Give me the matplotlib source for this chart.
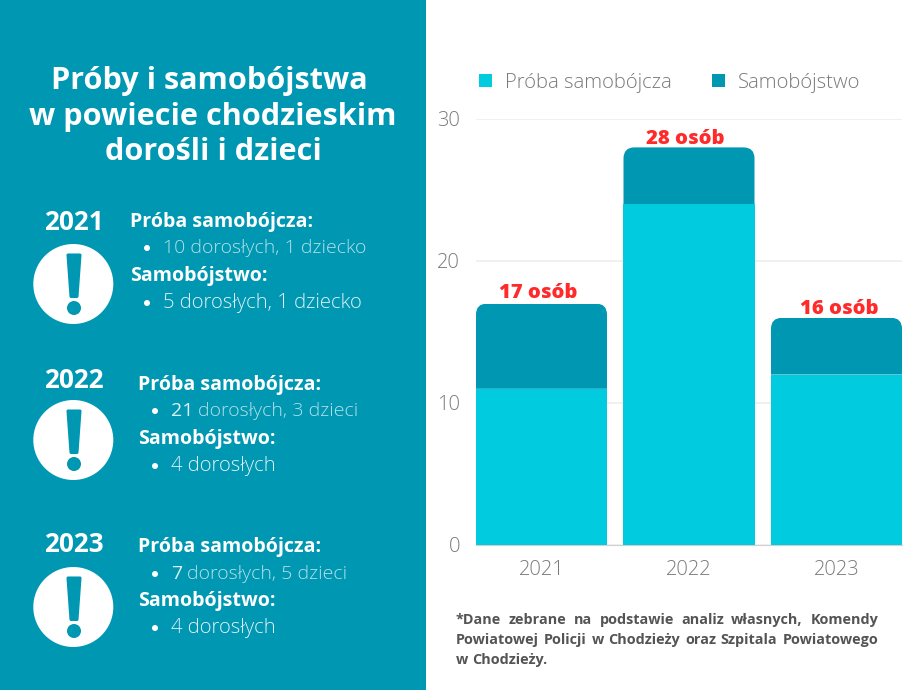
import matplotlib
matplotlib.use("Agg")
import matplotlib.pyplot as plt
from matplotlib.patches import Rectangle, Circle, Polygon, PathPatch
from matplotlib.path import Path

plt.rcParams['font.family'] = ['Open Sans', 'DejaVu Sans']

years = ['2021', '2022', '2023']
attempts = [11, 24, 12]
suicides = [6, 4, 4]
y_ticks = [0, 10, 20, 30]
series_names = ['Próba samobójcza', 'Samobójstwo']
title_lines = ['Próby i samobójstwa', 'w powiecie chodzieskim', 'dorośli i dzieci']
details = [
    ('2021', '', '10 dorosłych, 1 dziecko', '5 dorosłych, 1 dziecko'),
    ('2022', '21', 'dorosłych, 3 dzieci', '4 dorosłych'),
    ('2023', '7', 'dorosłych, 5 dzieci', '4 dorosłych'),
]
note_lines = ['*Dane zebrane na podstawie analiz własnych, Komendy',
              'Powiatowej Policji w Chodzieży oraz Szpitala Powiatowego',
              'w Chodzieży.']

TEAL = '#0097B2'
CYAN = '#00CBDF'
W, H = 920, 690
fig = plt.figure(figsize=(9.2, 6.9), dpi=100, facecolor='white')
rend = fig.canvas.get_renderer()

bg = fig.add_axes([0, 0, 1, 1], zorder=0)
bg.set_xlim(0, W); bg.set_ylim(H, 0); bg.axis('off')
bg.add_patch(Rectangle((0, 0), 426, H, fc=TEAL, ec='none'))

for line, cx, y in zip(title_lines, [209.5, 213, 213], [81, 117, 152]):
    bg.text(cx, y, line, color='white', fontsize=22.1, fontweight='bold', ha='center', va='center')

layout = [
    dict(yl=223, cy=284, x=130, by=(222, 248, 276, 303), bullet=147, tx=163),
    dict(yl=380, cy=440, x=138, by=(385, 411, 439, 466), bullet=155, tx=171),
    dict(yl=544, cy=607, x=138, by=(547, 574, 601, 628), bullet=155, tx=171),
]
BRIGHT = '#DDF2F5'
SOFT = '#B4E1E9'
for (yr, lead, rest, s), L in zip(details, layout):
    bg.text(74, L['yl'], yr, color='white', fontsize=18.8, fontweight='bold', ha='center', va='center')
    cy = L['cy']
    bg.add_patch(Circle((73.3, cy), 40, fc='white', ec='none'))
    bg.add_patch(Polygon([(68, cy-29), (80, cy-29), (77, cy+12.5), (71, cy+12.5)],
                         closed=True, fc=TEAL, ec=TEAL, lw=2.2, joinstyle='round'))
    bg.add_patch(Circle((74, cy+24), 7, fc=TEAL, ec='none'))
    y1, y2, y3, y4 = L['by']
    bg.text(L['x'], y1, series_names[0] + ':', color='white', fontsize=14.1, fontweight='bold', va='center')
    bg.text(L['x'], y3, series_names[1] + ':', color='white', fontsize=14.1, fontweight='bold', va='center')
    bg.add_patch(Circle((L['bullet'], y2), 3, fc='white', ec='none'))
    bg.add_patch(Circle((L['bullet'], y4), 3, fc='white', ec='none'))
    xpos = L['tx']
    if lead:
        art = bg.text(xpos, y2, lead, color=BRIGHT, fontsize=14.0, fontweight='normal', va='center')
        xpos += art.get_window_extent(rend).width + 5
    bg.text(xpos, y2, rest, color=SOFT, fontsize=14.0, fontweight='light', va='center')
    bg.text(L['tx'], y4, s, color=BRIGHT, fontsize=14.55, fontweight='light', va='center')

ax = fig.add_axes([476/W, 1-545/H, 426/W, 426/H], zorder=1)
ax.patch.set_alpha(0)
x = list(range(len(years)))
bw = 131/147.5
b1 = ax.bar(x, attempts, width=bw, color=CYAN, label=series_names[0], zorder=3)
b2 = ax.bar(x, suicides, width=bw, bottom=attempts, color=TEAL, label=series_names[1], zorder=3)
ax.set_xlim(-0.444, 2.444)
ax.set_ylim(0, 30)

rx, ry = 11/147.5, 11/14.2
for r in b2:
    l, b, w, h = r.get_x(), r.get_y(), r.get_width(), r.get_height()
    t, rr = b+h, l+w
    verts = [(l, b), (l, t-ry), (l, t), (l+rx, t), (rr-rx, t), (rr, t), (rr, t-ry), (rr, b), (l, b)]
    codes = [Path.MOVETO, Path.LINETO, Path.CURVE3, Path.CURVE3, Path.LINETO, Path.CURVE3, Path.CURVE3, Path.LINETO, Path.CLOSEPOLY]
    r.set_clip_path(PathPatch(Path(verts, codes), transform=ax.transData))

label_off = [(-2.2, 7.5), (-2.8, 5.8), (2.0, 6.5)]
for i, (a, s) in enumerate(zip(attempts, suicides)):
    ax.annotate(f'{a+s} osób', (i, a+s), xytext=label_off[i], textcoords='offset points',
                ha='center', va='center', color='#FF2A2A', fontsize=14.6, fontweight='heavy')

ax.set_yticks(y_ticks)
ax.set_xticks(x, years)
ax.grid(axis='y', color='#EDEDED', lw=1.2, zorder=0)
ax.set_axisbelow(True)
for k in ('top', 'left', 'right'):
    ax.spines[k].set_visible(False)
ax.spines['bottom'].set_color('#D0D0D0')
ax.tick_params(axis='both', length=0, labelsize=14.5, labelcolor='#7A7A7A')
ax.tick_params(axis='y', pad=11.5)
ax.tick_params(axis='x', pad=10.5)
for t in ax.get_xticklabels() + ax.get_yticklabels():
    t.set_fontweight('light')

leg = ax.legend(loc='lower left', bbox_to_anchor=(3/426, 1.062), ncols=2, frameon=False, fontsize=14.6,
                labelcolor='#7A7A7A', handlelength=0.65, handleheight=0.65, handletextpad=0.65,
                columnspacing=1.95, borderpad=0, borderaxespad=0)
for t in leg.get_texts():
    t.set_fontweight('light')

fig.canvas.draw()
NL, NR = 456, 878
for line, y, justify in zip(note_lines, [624, 644, 664], [True, True, False]):
    words = line.split()
    arts = [bg.text(0, y, w, color='#545454', fontsize=10.35, fontweight='bold', va='baseline') for w in words]
    widths = [a.get_window_extent(rend).width for a in arts]
    space = (NR-NL-sum(widths))/(len(words)-1) if justify else 4
    pos = NL
    for a, wd in zip(arts, widths):
        a.set_x(pos)
        pos += wd + space

fig.savefig('out.png', dpi=100)
